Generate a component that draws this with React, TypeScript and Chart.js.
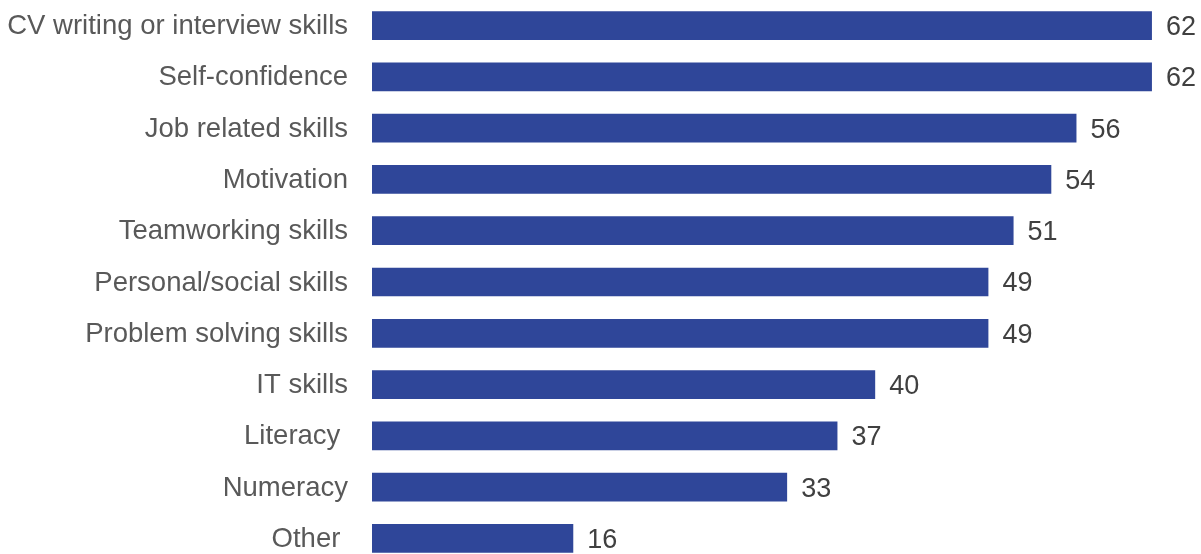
import React, { useEffect, useRef } from "react";
import { Chart, registerables } from "chart.js";

Chart.register(...registerables);

const categories: string[] = [
  "CV writing or interview skills",
  "Self-confidence",
  "Job related skills",
  "Motivation",
  "Teamworking skills",
  "Personal/social skills",
  "Problem solving skills",
  "IT skills",
  "Literacy ",
  "Numeracy",
  "Other ",
];

const values: number[] = [62, 62, 56, 54, 51, 49, 49, 40, 37, 33, 16];

const barColor = "#2F4699";
const labelColor = "#595959";
const valueColor = "#404040";
const fontFamily = "'Liberation Sans', Arial, sans-serif";

const labelsPlugin = {
  id: "barLabels",
  afterDatasetsDraw(chart: any) {
    const ctx = chart.ctx;
    const meta = chart.getDatasetMeta(0);
    const left = chart.chartArea.left;
    ctx.save();
    ctx.textBaseline = "middle";
    meta.data.forEach((bar: any, i: number) => {
      ctx.fillStyle = labelColor;
      ctx.font = `27.5px ${fontFamily}`;
      ctx.textAlign = "right";
      ctx.fillText(categories[i], left - 24, bar.y + 1);
      ctx.fillStyle = valueColor;
      ctx.font = `27px ${fontFamily}`;
      ctx.textAlign = "left";
      ctx.fillText(String(values[i]), bar.x + 14, bar.y + 2);
    });
    ctx.restore();
  },
};

export default function App() {
  const canvasRef = useRef<HTMLCanvasElement | null>(null);

  useEffect(() => {
    if (!canvasRef.current) return;
    const chart = new Chart(canvasRef.current, {
      type: "bar",
      data: {
        labels: categories,
        datasets: [
          {
            data: values,
            backgroundColor: barColor,
            borderWidth: 0,
            categoryPercentage: 1,
            barPercentage: 0.56,
          },
        ],
      },
      options: {
        indexAxis: "y",
        animation: false,
        responsive: false,
        maintainAspectRatio: false,
        layout: { padding: { left: 372, right: 0, top: 0, bottom: 0 } },
        plugins: {
          legend: { display: false },
          tooltip: { enabled: false },
        },
        scales: {
          x: {
            display: false,
            min: 0,
            max: 65.9,
          },
          y: {
            display: false,
          },
        },
      },
      plugins: [labelsPlugin],
    });
    return () => chart.destroy();
  }, []);

  return (
    <div
      style={{
        position: "fixed",
        left: 0,
        top: 0,
        width: 1201,
        height: 554,
        overflow: "hidden",
        background: "#ffffff",
      }}
    >
      <canvas ref={canvasRef} width={1201} height={564} style={{ display: "block" }} />
    </div>
  );
}
